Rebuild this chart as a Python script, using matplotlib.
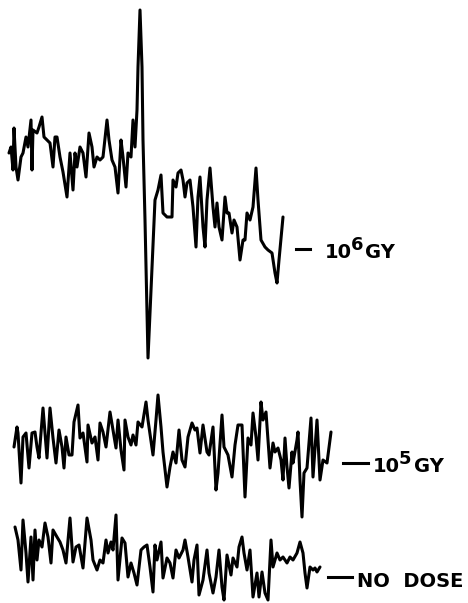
import matplotlib
matplotlib.use("Agg")
import matplotlib.pyplot as plt

# Trace 1: 10^6 Gy (x = field position, y = signal, image-style units, down = larger)
x_1e6 = [9, 11, 13, 14, 16, 18, 21, 23, 26, 28, 31, 32, 33, 37, 39, 42, 44, 47, 50, 53,
         55, 57, 60, 63, 67, 70, 73, 75, 77, 80, 83, 86, 89, 92, 94, 97, 100, 103, 107, 109,
         112, 115, 118, 121, 123, 126, 128, 131, 133, 135, 137, 138, 140, 142, 143, 145, 148,
         155, 158, 161, 163, 167, 172, 173, 176, 178, 181, 183, 185, 187, 190, 193, 196, 198,
         200, 203, 205, 207, 210, 213, 215, 217, 219, 222, 225, 227, 229, 232, 234, 237, 240,
         243, 245, 247, 250, 253, 256, 258, 261, 265, 268, 272, 275, 277, 279, 283]
y_1e6 = [153, 147, 170, 128, 167, 180, 157, 153, 137, 147, 120, 170, 130, 133, 127, 117, 137, 140, 143, 167,
         137, 137, 157, 172, 197, 153, 190, 153, 167, 147, 153, 177, 133, 147, 167, 157, 160, 157, 120, 140,
         160, 167, 193, 140, 157, 187, 153, 157, 120, 147, 110, 67, 10, 67, 140, 220, 358,
         200, 190, 175, 213, 217, 217, 180, 187, 173, 170, 180, 197, 183, 180, 207, 247, 197,
         177, 227, 247, 200, 168, 207, 227, 203, 227, 240, 197, 213, 213, 233, 220, 227, 260,
         240, 240, 213, 220, 207, 168, 200, 240, 247, 250, 253, 273, 283, 260, 217]

# Trace 2: 10^5 Gy
x_1e5 = [14, 17, 18, 21, 23, 26, 29, 32, 35, 37, 39, 43, 45, 47, 50, 53, 56, 59, 62, 64,
         66, 69, 72, 74, 78, 80, 83, 87, 88, 92, 95, 98, 100, 103, 106, 110, 113, 116, 118, 121,
         124, 125, 128, 131, 133, 136, 138, 142, 146, 148, 153, 156, 158, 161, 163, 167, 170, 173,
         176, 179, 182, 185, 188, 192, 195, 197, 200, 203, 207, 209, 213, 216, 218, 222, 224, 228,
         232, 235, 238, 242, 245, 248, 251, 253, 256, 258, 261, 263, 266, 270, 273, 275, 278, 281,
         283, 285, 287, 289, 292, 293, 297, 298, 300, 302, 304, 307, 311, 313, 317, 320, 323, 327, 331]
y_1e5 = [447, 427, 433, 483, 437, 433, 468, 433, 432, 447, 458, 408, 433, 458, 408, 438, 463, 430, 447, 468,
         437, 455, 455, 422, 405, 438, 433, 462, 425, 443, 437, 460, 423, 432, 447, 412, 430, 448, 420, 450,
         470, 420, 437, 445, 435, 445, 422, 427, 402, 420, 455, 420, 395, 427, 452, 487, 467, 452,
         463, 430, 460, 467, 437, 423, 430, 428, 453, 425, 452, 455, 427, 490, 473, 415, 447, 455,
         477, 445, 425, 425, 497, 438, 445, 413, 437, 460, 402, 420, 412, 468, 443, 452, 448, 460,
         480, 438, 467, 488, 452, 463, 440, 432, 480, 517, 473, 468, 418, 477, 420, 480, 460, 463, 432]

# Trace 3: no dose
x_0 = [15, 18, 21, 23, 26, 28, 31, 33, 35, 37, 39, 42, 45, 48, 51, 53, 57, 60, 63, 66,
       70, 73, 76, 79, 83, 87, 91, 93, 97, 100, 103, 106, 108, 111, 113, 116, 118, 122, 125, 128,
       131, 134, 137, 141, 144, 147, 150, 153, 155, 157, 161, 163, 167, 170, 173, 176, 179, 183,
       185, 188, 192, 194, 197, 199, 203, 207, 209, 213, 216, 219, 222, 224, 227, 231, 233, 237,
       239, 242, 244, 247, 250, 253, 257, 259, 262, 265, 268, 271, 273, 277, 280, 283, 287, 290,
       293, 297, 300, 303, 305, 307, 310, 313, 315, 317, 320]
y_0 = [527, 540, 570, 520, 553, 582, 537, 580, 530, 560, 540, 547, 523, 537, 563, 530, 537, 542, 550, 563,
       518, 562, 547, 545, 568, 518, 540, 560, 570, 560, 563, 540, 553, 542, 550, 515, 580, 538, 543, 577,
       563, 573, 585, 550, 547, 545, 567, 592, 545, 560, 542, 578, 558, 563, 578, 550, 558, 550,
       540, 557, 582, 560, 545, 595, 580, 550, 573, 593, 577, 550, 587, 600, 555, 575, 558, 567,
       547, 537, 553, 570, 550, 597, 573, 597, 572, 593, 600, 540, 567, 553, 560, 557, 563, 557,
       560, 553, 542, 553, 573, 588, 567, 570, 568, 572, 567]

fig = plt.figure(figsize=(4.68, 6.03), dpi=100)
ax = fig.add_axes([0, 0, 1, 1])
ax.set_xlim(0, 468)
ax.set_ylim(603, 0)
ax.axis("off")

for xs, ys in [(x_1e6, y_1e6), (x_1e5, y_1e5), (x_0, y_0)]:
    ax.plot(xs, ys, color="black", lw=2.2, solid_joinstyle="round", solid_capstyle="round")

kw = dict(color="black", fontweight="bold", family="DejaVu Sans", va="baseline", ha="left")

# Label 10^6 GY
ax.plot([296, 310], [249, 249], color="black", lw=2.2)
ax.text(325, 258, "10", fontsize=14, **kw)
ax.text(351, 250, "6", fontsize=13, **kw)
ax.text(365, 258, "GY", fontsize=14, **kw)

# Label 10^5 GY
ax.plot([343, 368], [463, 463], color="black", lw=2.2)
ax.text(373, 472, "10", fontsize=14, **kw)
ax.text(399, 464, "5", fontsize=13, **kw)
ax.text(414, 472, "GY", fontsize=14, **kw)

# Label NO DOSE
ax.plot([328, 352], [577, 577], color="black", lw=2.2)
ax.text(357, 587, "NO  DOSE", fontsize=14, **kw)

fig.savefig("out.png", dpi=100, facecolor="white")
